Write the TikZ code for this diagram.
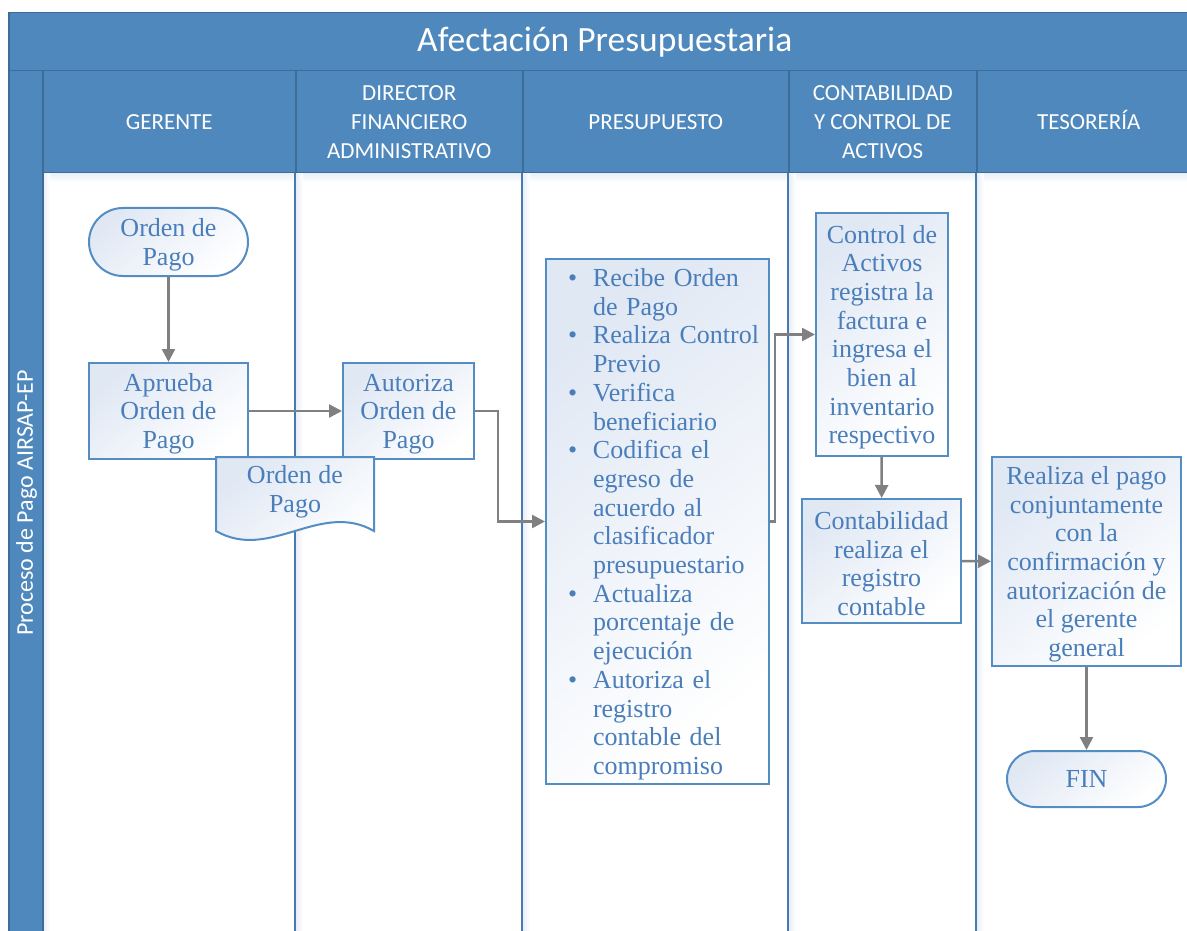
\documentclass[tikz,border=0pt]{standalone}
\usepackage{fontspec}
\setmainfont{Liberation Serif}
\newfontfamily\hdrfont{Carlito}
\usetikzlibrary{arrows.meta}
\definecolor{hdrfill}{RGB}{79,136,188}
\definecolor{hdrline}{RGB}{62,108,152}
\definecolor{laneline}{RGB}{72,122,178}
\definecolor{nodeline}{RGB}{84,141,196}
\definecolor{nodetext}{RGB}{74,126,187}
\definecolor{gtop}{RGB}{224,232,244}
\definecolor{conn}{RGB}{128,128,128}
\definecolor{glow}{RGB}{230,237,246}
\newcommand\tp{\rule{0pt}{23.5pt}}
\newcommand\bitem[1]{\makebox[222pt][l]{\hspace*{22pt}\makebox[25pt][l]{•}#1}}
\newcommand\bcont[1]{\makebox[222pt][l]{\hspace*{47pt}#1}}
\begin{document}
\begin{tikzpicture}[x=1pt,y=-1pt,
 hdr/.style={draw=hdrline, line width=1.5pt, fill=hdrfill, text=white, anchor=north west, inner sep=0pt, align=center, font=\hdrfont\fontsize{23}{29}\selectfont},
 box/.style={draw=nodeline, line width=2pt, top color=gtop, bottom color=white, shading angle=40, text=nodetext, align=center, inner sep=0pt, font=\fontsize{26}{28.7}\selectfont},
 term/.style={box, rounded corners=#1},
 flow/.style={draw=conn, line width=2.5pt, -{Triangle[length=13pt,width=13pt]}},
 lane/.style={draw=laneline, line width=2.5pt}
]
\useasboundingbox (0,0) rectangle (1187,931);
\clip (0,0) rectangle (1187,931);
\fill[white] (0,0) rectangle (1187,931);

% soft shadows in the lane bodies
\shade[top color=glow, bottom color=white] (42,172) rectangle (1200,182);
\foreach \lx in {42,295,522,788,976}{
  \shade[left color=glow, right color=white] (\lx,172) rectangle (\lx+8,940);
}
% lane separators
\foreach \lx in {295,522,788,976}{
  \draw[lane] (\lx,172) -- (\lx,940);
}

% headers
\node[hdr, minimum width=1192pt, minimum height=58pt, font=\hdrfont\fontsize{35.5}{40}\selectfont] (title) at (8,12) {Afectaci\'on Presupuestaria};
\node[hdr, minimum width=34pt, minimum height=880pt] (strip) at (8,70) {};
\node[rotate=90, text=white, inner sep=0pt, font=\hdrfont\fontsize{24}{29}\selectfont] (striptext) at (26.5,503) {Proceso de Pago AIRSAP-EP};
\node[hdr, minimum width=253pt, minimum height=102pt] (h1) at (42,70) {GERENTE};
\node[hdr, minimum width=227pt, minimum height=102pt] (h2) at (295,70) {DIRECTOR\\FINANCIERO\\ADMINISTRATIVO};
\node[hdr, minimum width=266pt, minimum height=102pt] (h3) at (522,70) {PRESUPUESTO};
\node[hdr, minimum width=188pt, minimum height=102pt] (h4) at (788,70) {CONTABILIDAD\\Y CONTROL DE\\ACTIVOS};
\node[hdr, minimum width=224pt, minimum height=102pt] (h5) at (976,70) {\smash{TESORER\'IA}\vphantom{E}};

% flow nodes
\node[term=34pt, minimum width=159pt, minimum height=68pt] (start) at (168.5,242) {\tp Orden de\\Pago};
\node[box, minimum width=159pt, minimum height=96pt] (aprueba) at (168.5,411) {\tp Aprueba\\Orden de\\Pago};
\node[box, minimum width=131pt, minimum height=96pt] (autoriza) at (408.5,411) {\tp Autoriza\\Orden de\\Pago};
\node[box, minimum height=525pt, text width=223pt, align=left] (pres) at (657.5,521.5) {%
\bitem{\tp Recibe Orden}\\
\bcont{de Pago}\\
\bitem{Realiza Control}\\
\bcont{Previo}\\
\bitem{Verifica}\\
\bcont{beneficiario}\\
\bitem{Codifica el}\\
\bcont{egreso de}\\
\bcont{acuerdo al}\\
\bcont{clasificador}\\
\bcont{presupuestario}\\
\bitem{Actualiza}\\
\bcont{porcentaje de}\\
\bcont{ejecuci\'on}\\
\bitem{Autoriza el}\\
\bcont{registro}\\
\bcont{contable del}\\
\bcont{compromiso}};
\node[box, minimum width=132pt, minimum height=243pt] (ctrl) at (882,334.5) {\tp Control de\\Activos\\registra la\\factura e\\ingresa el\\bien al\\inventario\\respectivo};
\node[box, minimum width=159pt, minimum height=124pt] (conta) at (881.5,561) {\tp Contabilidad\\realiza el\\registro\\contable};
\node[box, minimum width=189pt, minimum height=209pt] (pago) at (1086.5,561.5) {\tp Realiza el pago\\conjuntamente\\con la\\confirmaci\'on y\\autorizaci\'on de\\el gerente\\general};
\node[term=28pt, minimum width=159pt, minimum height=56pt] (fin) at (1086.5,779) {FIN};

% connectors
\draw[flow] (start) -- (aprueba);
\draw[flow] (aprueba) -- (autoriza);
\draw[flow] (autoriza.east) -- ++(23,0) |- (pres.west);
\draw[flow] (pres.east) -- ++(5,0) |- (ctrl.west);
\draw[flow] (ctrl) -- (conta);
\draw[flow] (conta) -- (pago);
\draw[flow] (pago) -- (fin);

% document shape
\draw[draw=nodeline, line width=2pt, top color=gtop, bottom color=white, shading angle=40]
  (216,457) -- (374,457) -- (374,531) .. controls (320,500) and (270,562) .. (216,531) -- cycle;
\node[text=nodetext, align=center, inner sep=0pt, font=\fontsize{26}{28.7}\selectfont] (doc) at (295,489) {\tp Orden de\\Pago};
\end{tikzpicture}
\end{document}
